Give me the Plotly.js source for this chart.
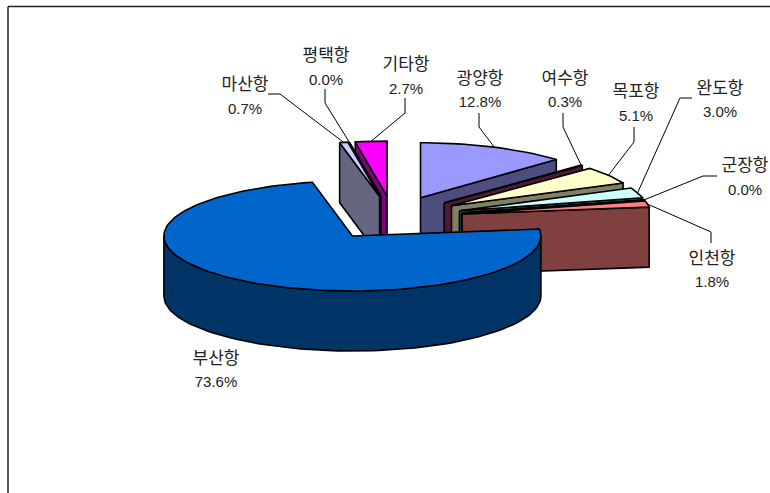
<!DOCTYPE html>
<html><head><meta charset="utf-8">
<script src="https://cdn.plot.ly/plotly-3.0.1.min.js"></script>
<style>html,body{margin:0;padding:0;background:#fff}#c{width:770px;height:493px}</style>
</head><body><div id="c"></div>
<script>
// Data, clockwise from 12 o'clock
const ports  = ['광양항','여수항','목포항','완도항','군장항','인천항','부산항','마산항','평택항','기타항'];
const shares = [12.8, 0.3, 5.1, 3.0, 0.0, 1.8, 73.6, 0.7, 0.0, 2.7];
const shareLabels = ['12.8%','0.3%','5.1%','3.0%','0.0%','1.8%','73.6%','0.7%','0.0%','2.7%'];
// Styles
const topColors  = ['#9999ff','#993366','#ffffcc','#ccffff','#660066','#ff8080','#0066cc','#ccccff','#660066','#ff00ff'];
const wallColors = ['#4d4d80','#4d1a33','#808066','#668080','#330033','#804040','#003366','#666680','#330033','#800080'];
const drawOrder  = [0,1,2,3,4,5,9,8,7,6];
// Label placement
const nameX = [480,565,636,720,745,712,216,245,326,406];
const nameY = [80,80,93,90,167,260,360,86,57,66];
const pctX  = [480,565,636,720,745,712,216,245,326,406];
const pctY  = [103,103,117,113,191,283,383,110,81,90];
const elbows = [
  [[479,113],[479,127]], [[563,113],[563,127]], [[634,127],[634,142]],
  [[692,98],[680,98]],  [[717,176],[703,176]], [[711,243],[711,232]],
  [], [[268,94],[280,94]], [[325,89],[325,103]], [[405,98],[405,113]]
];
// Pie projection
const cx=393, cy=218, rx=188.5, ry=55, depth=60, explodeX=70.3, explodeY=22;
const total = shares.reduce((a,b)=>a+b,0);
let acc=0;
const slices = shares.map(v=>{const a0=acc/total*360; acc+=v; return {a0,a1:acc/total*360,mid:(a0+acc/total*360)/2};});
const rad=d=>d*Math.PI/180;
const apex=s=>[cx+explodeX*Math.sin(rad(s.mid)), cy-explodeY*Math.cos(rad(s.mid))];
const rim=(s,a)=>{const p=apex(s);return [p[0]+rx*Math.sin(rad(a)), p[1]-ry*Math.cos(rad(a))];};
const poly=(pts,fill,name)=>({type:'scatter',mode:'lines',x:pts.map(p=>p[0]),y:pts.map(p=>p[1]),
  fill:'toself',fillcolor:fill,line:{color:'#000',width:1.6,shape:'linear'},hoverinfo:'text',text:name,showlegend:false});
const traces=[];
drawOrder.forEach(i=>{
  const s=slices[i], p=apex(s), name=ports[i]+' '+shareLabels[i];
  if(s.a1-s.a0>180){
    const arc=[]; for(let a=90;a<=270;a+=2) arc.push(rim(s,a));
    const low=arc.slice().reverse().map(q=>[q[0],q[1]+depth]);
    traces.push(poly(arc.concat(low,[arc[0]]),wallColors[i],name));
  } else {
    const edge=rim(s,s.mid<180?s.a1:s.a0);
    traces.push(poly([p,edge,[edge[0],edge[1]+depth],[p[0],p[1]+depth],p],wallColors[i],name));
  }
  const top=[p]; const n=Math.max(2,Math.ceil((s.a1-s.a0)/2));
  for(let k=0;k<=n;k++) top.push(rim(s,s.a0+(s.a1-s.a0)*k/n));
  top.push(p);
  traces.push(poly(top,topColors[i],name));
});
// Leader lines
slices.forEach((s,i)=>{
  if(!elbows[i].length) return;
  const end=rim(s,s.mid), pts=elbows[i].concat([end]);
  traces.push({type:'scatter',mode:'lines',x:pts.map(p=>p[0]),y:pts.map(p=>p[1]),
    line:{color:'#000',width:1},hoverinfo:'skip',showlegend:false});
});
const nameFont={family:'"Noto Sans CJK KR","Noto Sans",sans-serif',size:17,color:'#222'};
const pctFont={family:'"Liberation Sans",sans-serif',size:15,color:'#222'};
traces.push({type:'scatter',mode:'text',x:nameX,y:nameY,text:ports,textposition:'middle center',textfont:nameFont,hoverinfo:'skip',showlegend:false});
traces.push({type:'scatter',mode:'text',x:pctX,y:pctY,text:shareLabels,textposition:'middle center',textfont:pctFont,hoverinfo:'skip',showlegend:false});
const layout={width:770,height:493,margin:{l:0,r:0,t:0,b:0},paper_bgcolor:'#fff',plot_bgcolor:'#fff',showlegend:false,
  xaxis:{range:[0,770],visible:false,fixedrange:true},
  yaxis:{range:[493,0],visible:false,fixedrange:true},
  shapes:[
    {type:'line',xref:'x',yref:'y',x0:8,x1:770,y0:6.5,y1:6.5,line:{color:'#222',width:1.5}},
    {type:'line',xref:'x',yref:'y',x0:8,x1:8,y0:6.5,y1:493,line:{color:'#222',width:1.5}}
  ]};
Plotly.newPlot('c',traces,layout,{displayModeBar:false,responsive:false});
</script></body></html>
